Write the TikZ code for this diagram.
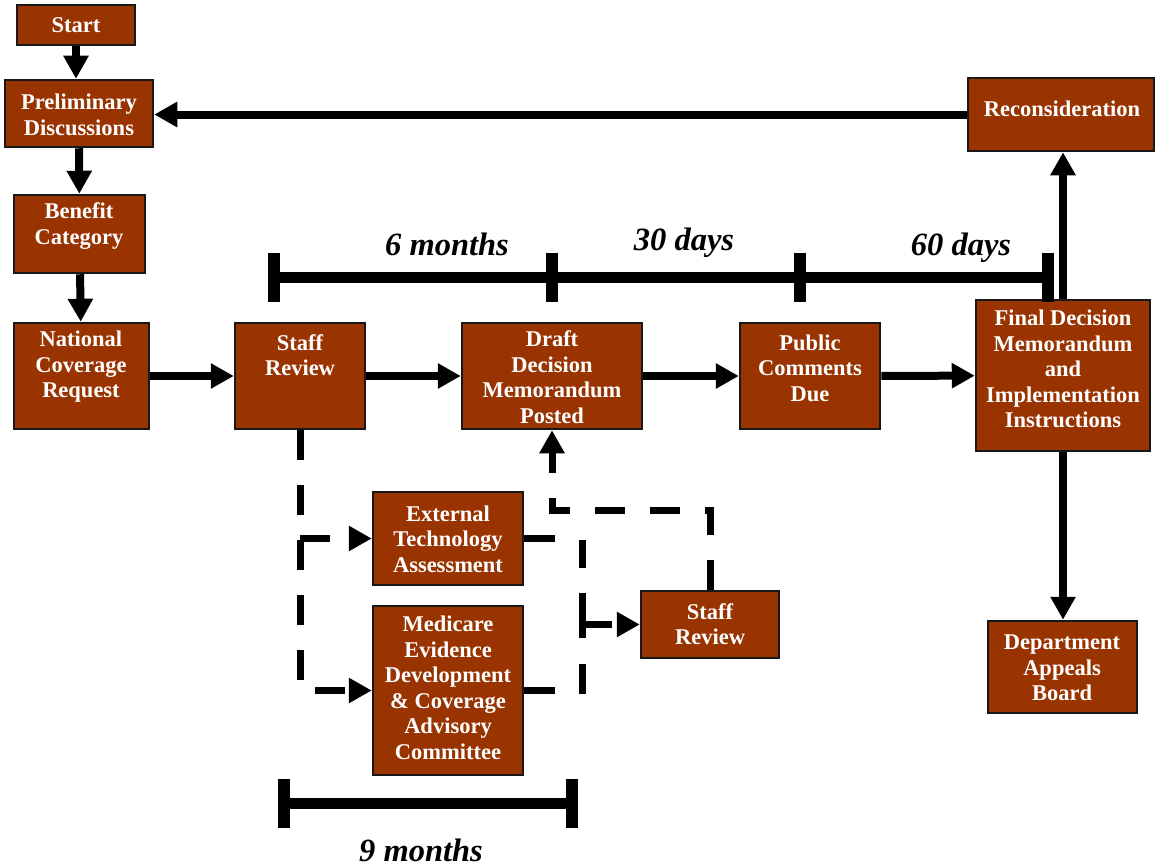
\documentclass[tikz,border=0pt]{standalone}
\usepackage{fontspec}
\setmainfont{Liberation Serif}
\usetikzlibrary{arrows.meta,fit}
\definecolor{boxc}{RGB}{153,51,0}
\begin{document}
\begin{tikzpicture}[x=1pt,y=-1pt,
 box/.style={draw=black!90,line width=2.5pt,fill=boxc,inner sep=0pt},
 txt/.style={text=white,font=\fontsize{22.5}{25.5}\selectfont\bfseries,align=center,inner sep=0pt},
 lbl/.style={font=\fontsize{32.5}{36}\selectfont\bfseries\itshape,inner sep=0pt,anchor=base},
 tip/.style={-{Triangle[length=23pt,width=24pt]}},
 flow/.style={line width=8pt,tip},
 dflow/.style={line width=7pt,dash pattern=on 30pt off 25pt},
 tl/.style={line width=11pt},
 tk/.style={line width=12pt}]
\useasboundingbox (0,0) rectangle (1156,867);

% boxes
\node[box,fit={(17,5)(135,45)}] (start) {};
\node[box,fit={(5,80)(153,147)}] (prelim) {};
\node[box,fit={(14,195)(145,273)}] (benefit) {};
\node[box,fit={(14,323)(149,429)}] (ncr) {};
\node[box,fit={(235,323)(365,429)}] (sr) {};
\node[box,fit={(462,323)(642,429)}] (draft) {};
\node[box,fit={(740,323)(880,429)}] (public) {};
\node[box,fit={(976,300)(1150,451)}] (final) {};
\node[box,fit={(968,78)(1154,151)}] (recon) {};
\node[box,fit={(988,621)(1137,713)}] (dept) {};
\node[box,fit={(373,492)(523,585)}] (ext) {};
\node[box,fit={(373,606)(523,775)}] (med) {};
\node[box,fit={(641,591)(779,658)}] (ss) {};

% texts
\node[txt] (tstart) at (76,25) {Start};
\node[txt] (tprelim) at (79,115) {Preliminary\\Discussions};
\node[txt] (tbenefit) at (79,226) {Benefit\\Category};
\node[txt] (tncr) at (81,367) {National\\Coverage\\Request};
\node[txt] (tsr) at (300,355) {Staff\\Review};
\node[txt] (tdraft) at (552,377) {Draft\\Decision\\Memorandum\\Posted};
\node[txt] (tpublic) at (810,368) {Public\\Comments\\Due};
\node[txt] (tfinal) at (1063,369) {Final Decision\\Memorandum\\and\\Implementation\\Instructions};
\node[txt] (trecon) at (1062,109) {Reconsideration};
\node[txt] (tdept) at (1062,668) {Department\\Appeals\\Board};
\node[txt] (text) at (448,539) {External\\Technology\\Assessment};
\node[txt] (tmed) at (448,688) {Medicare\\Evidence\\Development\\\& Coverage\\Advisory\\Committee};
\node[txt] (tss) at (710,624) {Staff\\Review};

% solid flow
\draw[flow] (start.south) -- (start.south |- prelim.north);
\draw[flow] (prelim) -- (benefit);
\draw[flow] (benefit) -- (ncr);
\draw[flow] (ncr) -- (sr);
\draw[flow] (sr) -- (draft);
\draw[flow] (draft) -- (public);
\draw[flow] (public) -- (final);
\draw[flow] (final.north) -- (final.north |- recon.south);
\draw[flow] (recon.west) -- (recon.west -| prelim.east);
\draw[flow] (final.south) -- (final.south |- dept.north);

% dashed flow
\coordinate (j1) at (300,538.5);
\coordinate (j2) at (582,694);
\coordinate (j3) at (582,624.5);
\coordinate (j4) at (552,510);
\draw[dflow,tip] (sr.south) |- (med.west);
\draw[dflow,tip] (j1) -- (ext.west);
\draw[dflow,dash pattern=on 31pt off 28pt on 28.5pt off 25pt on 45pt off 26pt on 40pt off 100pt] (ext.east) -| (j2);
\draw[dflow,dash pattern=on 31pt off 100pt] (med.east) -- (med.east -| j2);
\draw[dflow,tip] (j3) -- (ss.west);
\draw[dflow,tip] (ss.north) |- (j4) -- (draft.south);

% timelines
\coordinate (a0) at (274,277.5);
\coordinate (a1) at (552,277.5);
\coordinate (a2) at (800,277.5);
\coordinate (a3) at (1048,277.5);
\draw[tl] (a0) -- (a3);
\foreach \p in {a0,a1,a2,a3} \draw[tk] ([yshift=-24.5pt]\p) -- ([yshift=24.5pt]\p);
\node[lbl] (l6) at (447,255) {6 months};
\node[lbl] (l30) at (684,250) {30 days};
\node[lbl] (l60) at (961,255) {60 days};

\coordinate (b0) at (284,803);
\coordinate (b1) at (572,803);
\draw[tl] (b0) -- (b1);
\foreach \p in {b0,b1} \draw[tk] ([yshift=-24.5pt]\p) -- ([yshift=24.5pt]\p);
\node[lbl] (l9) at (421,861) {9 months};
\end{tikzpicture}
\end{document}
